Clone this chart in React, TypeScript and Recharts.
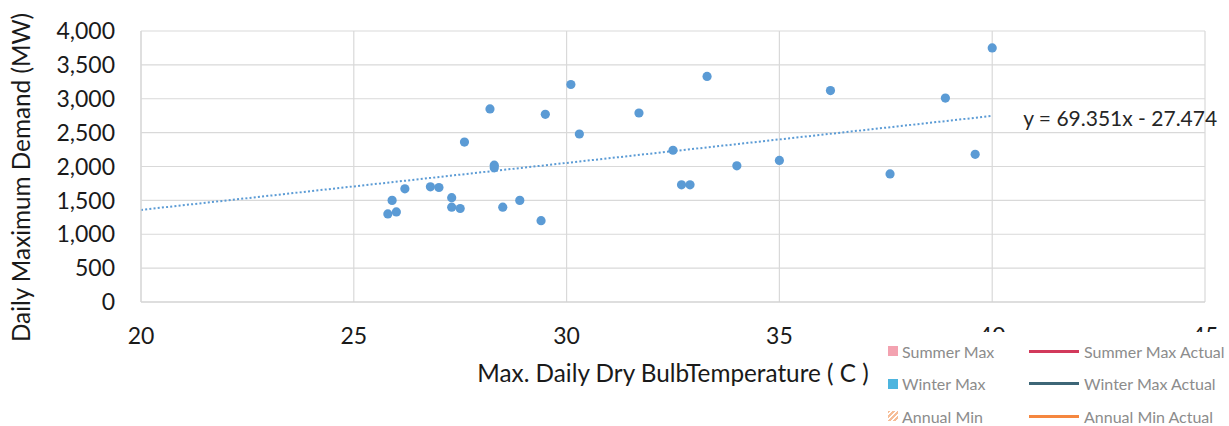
import React from "react";
import {
  ScatterChart,
  Scatter,
  XAxis,
  YAxis,
  CartesianGrid,
  ReferenceLine,
  Legend,
} from "recharts";

// ---- data ----
const temperatures = [
  25.8, 25.9, 26.0, 26.2, 26.8, 27.0, 27.3, 27.3, 27.5, 27.6, 28.2, 28.3, 28.3,
  28.5, 28.9, 29.4, 29.5, 30.1, 30.3, 31.7, 32.5, 32.7, 32.9, 33.3, 34.0, 35.0,
  36.2, 37.6, 38.9, 39.6, 40.0,
];
const demands = [
  1300, 1500, 1330, 1670, 1700, 1690, 1540, 1400, 1380, 2360, 2850, 2020, 1980,
  1400, 1500, 1200, 2770, 3210, 2480, 2790, 2240, 1730, 1730, 3330, 2010, 2090,
  3120, 1890, 3010, 2180, 3750,
];
const xTicks = [20, 25, 30, 35, 40, 45];
const yTicks = [0, 500, 1000, 1500, 2000, 2500, 3000, 3500, 4000];
const trendSlope = 69.351;
const trendIntercept = -27.474;
const trendRange = [20, 40];
const trendLabel = "y = 69.351x - 27.474";
const xTitle = "Max. Daily Dry BulbTemperature ( C )";
const yTitle = "Daily Maximum Demand (MW)";

const legendSquares = [
  { name: "Summer Max", color: "#F3A2B0", hatch: false },
  { name: "Winter Max", color: "#4DB5DF", hatch: false },
  { name: "Annual Min", color: "#F6BE98", hatch: true },
];
const legendLines = [
  { name: "Summer Max Actual", color: "#D2395B" },
  { name: "Winter Max Actual", color: "#3D6677" },
  { name: "Annual Min Actual", color: "#F5873F" },
];

const points = temperatures.map((t, i) => ({ x: t, y: demands[i] }));
const trendSegment = trendRange.map((x) => ({
  x,
  y: trendSlope * x + trendIntercept,
}));

const FONT = "Lato, 'Open Sans', sans-serif";
const DOT = "#5B9BD5";

const YTitle = (props: any) => {
  const vb = props.viewBox || { x: 0, y: 0, width: 0, height: 0 };
  const cx = vb.x + 20;
  const cy = vb.y + vb.height / 2 + 11;
  return (
    <text
      x={cx}
      y={cy}
      transform={`rotate(-90 ${cx} ${cy})`}
      textAnchor="middle"
      dominantBaseline="central"
      fontFamily={FONT}
      fontSize={24.3}
      fill="#1a1a1a"
    >
      {yTitle}
    </text>
  );
};

const XTitle = (props: any) => {
  const vb = props.viewBox || { x: 0, y: 0, width: 0, height: 0 };
  const cx = vb.x + vb.width / 2;
  const cy = vb.y + 70;
  return (
    <text
      x={cx}
      y={cy}
      textAnchor="middle"
      dominantBaseline="central"
      fontFamily={FONT}
      fontSize={24.3}
      fill="#1a1a1a"
    >
      {xTitle}
    </text>
  );
};

const TrendLabel = (props: any) => {
  const vb = props.viewBox || { x: 0, y: 0, width: 0, height: 0 };
  const xEnd = Math.max(vb.x, vb.x + (vb.width || 0));
  const yEnd = Math.min(vb.y, vb.y + (vb.height || 0));
  return (
    <text
      x={xEnd + 31}
      y={yEnd + 2}
      dominantBaseline="central"
      fontFamily={FONT}
      fontSize={21}
      fill="#262626"
    >
      {trendLabel}
    </text>
  );
};

const LegendContent = () => (
  <div
    style={{
      display: "grid",
      gridTemplateColumns: "145px 200px",
      fontFamily: FONT,
      fontSize: 16,
      color: "#8c8c8c",
      background: "#fff",
      paddingTop: 3,
    }}
  >
    {legendSquares.map((sq, i) => (
      <React.Fragment key={sq.name}>
        <div style={{ display: "flex", alignItems: "center", height: 32.5 }}>
          <span
            style={{
              display: "inline-block",
              width: 10,
              height: 10,
              marginLeft: 4,
              marginRight: 4,
              background: sq.hatch
                ? `repeating-linear-gradient(135deg, ${sq.color} 0px, ${sq.color} 2px, #fff 2px, #fff 3.5px)`
                : sq.color,
            }}
          />
          <span>{sq.name}</span>
        </div>
        <div style={{ display: "flex", alignItems: "center", height: 32.5 }}>
          <span
            style={{
              display: "inline-block",
              width: 50,
              height: 3,
              marginRight: 5,
              background: legendLines[i].color,
            }}
          />
          <span>{legendLines[i].name}</span>
        </div>
      </React.Fragment>
    ))}
  </div>
);

export default function App() {
  return (
    <div style={{ width: 1229, height: 426, position: "relative", background: "#fff" }}>
      <style>{`body{margin:0;}`}</style>
      <ScatterChart
        width={1229}
        height={426}
        margin={{ top: 31, right: 24, bottom: 64, left: 0 }}
      >
        <CartesianGrid stroke="#d9d9d9" strokeWidth={1.2} />
        <XAxis
          type="number"
          dataKey="x"
          domain={[20, 45]}
          ticks={xTicks}
          allowDataOverflow
          height={60}
          tickLine={false}
          tickSize={0}
          tickMargin={26}
          axisLine={{ stroke: "#d0d0d0", strokeWidth: 1.2 }}
          tick={{ fill: "#1a1a1a", fontSize: 23, fontFamily: FONT }}
          label={<XTitle />}
        />
        <YAxis
          type="number"
          dataKey="y"
          domain={[0, 4000]}
          ticks={yTicks}
          width={141}
          tickLine={false}
          tickSize={0}
          tickMargin={26}
          axisLine={{ stroke: "#d9d9d9", strokeWidth: 1.2 }}
          tick={{ fill: "#1a1a1a", fontSize: 23, fontFamily: FONT }}
          tickFormatter={(v: number) => v.toLocaleString("en-US")}
          label={<YTitle />}
        />
        <ReferenceLine
          segment={trendSegment}
          stroke={DOT}
          strokeWidth={2}
          strokeDasharray="2 2.2"
          ifOverflow="visible"
          label={<TrendLabel />}
        />
        <Scatter
          data={points}
          fill={DOT}
          isAnimationActive={false}
          shape={(p: any) => <circle cx={p.cx} cy={p.cy} r={4.6} fill={DOT} />}
        />
        <Legend
          layout="horizontal"
          verticalAlign="middle"
          align="center"
          content={<LegendContent />}
          wrapperStyle={{ position: "absolute", left: 884, top: 332, width: 345, height: 94, background: "#fff" }}
        />
      </ScatterChart>
    </div>
  );
}
